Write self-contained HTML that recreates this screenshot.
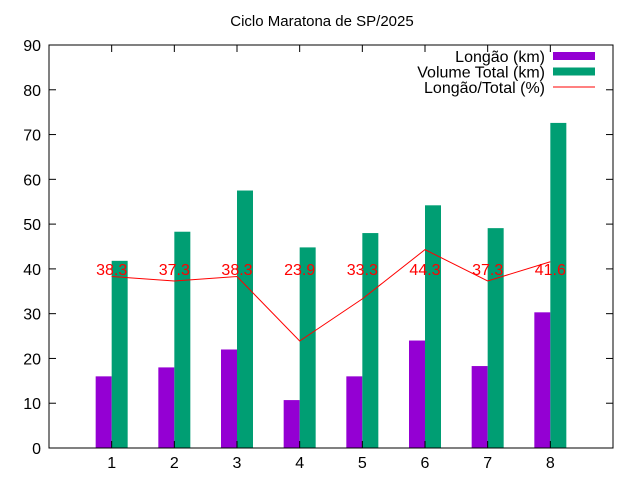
<!DOCTYPE html>
<html><head><meta charset="utf-8"><style>
body{margin:0;background:#fff}
svg{display:block;font-family:"Liberation Sans",sans-serif}
</style></head><body>
<svg id="c" width="640" height="480">
<text x="322" y="26" text-anchor="middle" font-size="15">Ciclo Maratona de SP/2025</text>
</svg>
<script>
const categories=["1","2","3","4","5","6","7","8"];
const longao=[16,18,22,10.7,16,24,18.3,30.3];
const volume=[41.8,48.3,57.5,44.8,48,54.2,49.1,72.6];
const ratio=[38.3,37.3,38.3,23.9,33.3,44.3,37.3,41.6];
const yTicks=[0,10,20,30,40,50,60,70,80,90];
const L=49,R=613,T=45,B=448;
const xs=i=>L+(i+1)*(R-L)/(categories.length+1);
const ys=v=>B-v*(B-T)/90;
const svg=document.getElementById('c');
const NS="http://www.w3.org/2000/svg";
function mk(t,a,p){const e=document.createElementNS(NS,t);for(const k in a)e.setAttribute(k,a[k]);(p||svg).appendChild(e);return e;}
categories.forEach((c,i)=>{
 const x=xs(i);
 const b1=mk('rect',{x:x-16,y:ys(longao[i]),width:16,height:B-ys(longao[i]),fill:'#9400d3'});
 
 
 const b2=mk('rect',{x:x,y:ys(volume[i]),width:16,height:B-ys(volume[i]),fill:'#009e73'});
 
 
});
const pl=mk('polyline',{points:ratio.map((v,i)=>xs(i)+','+ys(v)).join(' '),fill:'none',stroke:'#ff0000','stroke-width':1});


ratio.forEach((v,i)=>{
 const t=mk('text',{x:xs(i),y:ys(40)+6,'text-anchor':'middle','font-size':16,fill:'#ff0000'});
 t.textContent=v.toFixed(1);
 
 
});
const fr=mk('rect',{x:L,y:T,width:R-L,height:B-T,fill:'none',stroke:'#000'});


yTicks.forEach(v=>{
 const y=ys(v);
 mk('line',{x1:L,x2:L+7,y1:y,y2:y,stroke:'#000'});
 mk('line',{x1:R,x2:R-7,y1:y,y2:y,stroke:'#000'});
 const t=mk('text',{x:L-8,y:y+6,'text-anchor':'end','font-size':16});
 t.textContent=v;
 
 
});
categories.forEach((c,i)=>{
 const x=xs(i);
 mk('line',{x1:x,x2:x,y1:B,y2:B-7,stroke:'#000'});
 mk('line',{x1:x,x2:x,y1:T,y2:T+7,stroke:'#000'});
 const t=mk('text',{x:x,y:B+20,'text-anchor':'middle','font-size':16});
 t.textContent=c;
 
 
});
const leg=[["Longão (km)","#9400d3","bar"],["Volume Total (km)","#009e73","bar"],["Longão/Total (%)","#ff0000","line"]];
leg.forEach((e,i)=>{
 const y=56+i*15.5;
 const t=mk('text',{x:545,y:y+6,'text-anchor':'end','font-size':16});
 t.textContent=e[0];
 
 
 if(e[2]=="bar")mk('rect',{x:553,y:y-4,width:42,height:8,fill:e[1]});
 else mk('line',{x1:553,x2:595,y1:y,y2:y,stroke:e[1]});
});
</script>
</body></html>
